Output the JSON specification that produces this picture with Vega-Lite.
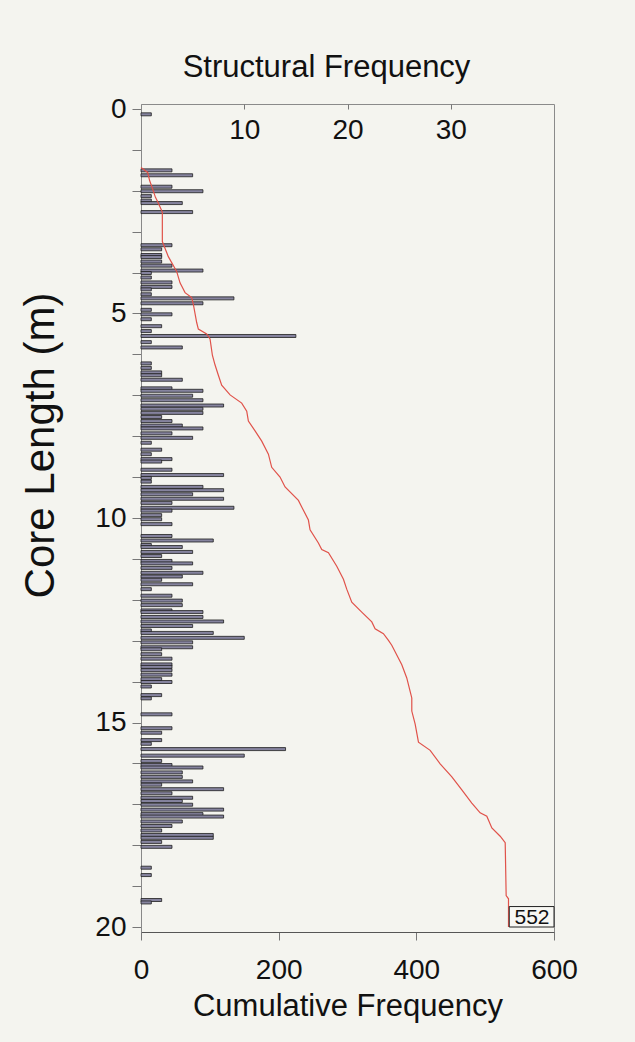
{
  "$schema": "https://vega.github.io/schema/vega-lite/v6.json",
  "width": 413,
  "height": 828,
  "autosize": {"type": "none"},
  "padding": {"left": 141, "top": 104, "right": 81, "bottom": 110},
  "background": "#f4f4ef",
  "config": {
    "font": "Liberation Sans",
    "view": {"stroke": "#8a8a8a", "strokeWidth": 1},
    "axis": {"labelFont": "Liberation Sans", "titleFont": "Liberation Sans", "labelColor": "#111", "titleColor": "#111", "titleFontWeight": "normal", "grid": false, "domainColor": "#777", "tickColor": "#777"}
  },
  "datasets": {
    "bars": [
      {"depth": 0.13, "freq": 1}, {"depth": 1.50, "freq": 3}, {"depth": 1.62, "freq": 5}, {"depth": 1.90, "freq": 3},
      {"depth": 2.01, "freq": 6}, {"depth": 2.13, "freq": 1}, {"depth": 2.24, "freq": 1}, {"depth": 2.30, "freq": 4},
      {"depth": 2.52, "freq": 5}, {"depth": 3.33, "freq": 3}, {"depth": 3.43, "freq": 2}, {"depth": 3.57, "freq": 2},
      {"depth": 3.62, "freq": 2}, {"depth": 3.73, "freq": 2}, {"depth": 3.83, "freq": 3}, {"depth": 3.95, "freq": 6},
      {"depth": 4.01, "freq": 1}, {"depth": 4.12, "freq": 1}, {"depth": 4.24, "freq": 3}, {"depth": 4.35, "freq": 3},
      {"depth": 4.41, "freq": 1}, {"depth": 4.53, "freq": 1}, {"depth": 4.63, "freq": 9}, {"depth": 4.75, "freq": 6},
      {"depth": 4.91, "freq": 1}, {"depth": 5.02, "freq": 3}, {"depth": 5.14, "freq": 1}, {"depth": 5.31, "freq": 2},
      {"depth": 5.43, "freq": 1}, {"depth": 5.55, "freq": 15}, {"depth": 5.70, "freq": 1}, {"depth": 5.83, "freq": 4},
      {"depth": 6.22, "freq": 1}, {"depth": 6.33, "freq": 1}, {"depth": 6.44, "freq": 2}, {"depth": 6.51, "freq": 2},
      {"depth": 6.62, "freq": 4}, {"depth": 6.83, "freq": 3}, {"depth": 6.89, "freq": 6}, {"depth": 7.01, "freq": 5},
      {"depth": 7.12, "freq": 6}, {"depth": 7.25, "freq": 8}, {"depth": 7.33, "freq": 6}, {"depth": 7.43, "freq": 6},
      {"depth": 7.53, "freq": 2}, {"depth": 7.63, "freq": 3}, {"depth": 7.74, "freq": 4}, {"depth": 7.81, "freq": 6},
      {"depth": 7.93, "freq": 3}, {"depth": 8.04, "freq": 5}, {"depth": 8.16, "freq": 1}, {"depth": 8.33, "freq": 2},
      {"depth": 8.44, "freq": 1}, {"depth": 8.56, "freq": 3}, {"depth": 8.62, "freq": 2}, {"depth": 8.82, "freq": 3},
      {"depth": 8.95, "freq": 8}, {"depth": 9.02, "freq": 1}, {"depth": 9.11, "freq": 1}, {"depth": 9.24, "freq": 6},
      {"depth": 9.32, "freq": 8}, {"depth": 9.42, "freq": 5}, {"depth": 9.53, "freq": 8}, {"depth": 9.63, "freq": 3},
      {"depth": 9.75, "freq": 9}, {"depth": 9.82, "freq": 3}, {"depth": 9.93, "freq": 2}, {"depth": 10.03, "freq": 2},
      {"depth": 10.15, "freq": 3}, {"depth": 10.44, "freq": 3}, {"depth": 10.55, "freq": 7}, {"depth": 10.66, "freq": 1},
      {"depth": 10.71, "freq": 4}, {"depth": 10.83, "freq": 5}, {"depth": 10.93, "freq": 2}, {"depth": 11.05, "freq": 3},
      {"depth": 11.11, "freq": 5}, {"depth": 11.22, "freq": 3}, {"depth": 11.34, "freq": 6}, {"depth": 11.43, "freq": 4},
      {"depth": 11.51, "freq": 2}, {"depth": 11.62, "freq": 5}, {"depth": 11.74, "freq": 1}, {"depth": 11.90, "freq": 3},
      {"depth": 12.02, "freq": 4}, {"depth": 12.13, "freq": 4}, {"depth": 12.26, "freq": 3}, {"depth": 12.30, "freq": 6},
      {"depth": 12.42, "freq": 6}, {"depth": 12.53, "freq": 8}, {"depth": 12.64, "freq": 5}, {"depth": 12.75, "freq": 1},
      {"depth": 12.81, "freq": 7}, {"depth": 12.93, "freq": 10}, {"depth": 13.04, "freq": 5}, {"depth": 13.16, "freq": 5},
      {"depth": 13.21, "freq": 2}, {"depth": 13.33, "freq": 2}, {"depth": 13.44, "freq": 3}, {"depth": 13.58, "freq": 3},
      {"depth": 13.64, "freq": 3}, {"depth": 13.72, "freq": 3}, {"depth": 13.83, "freq": 3}, {"depth": 13.94, "freq": 2},
      {"depth": 14.01, "freq": 3}, {"depth": 14.12, "freq": 1}, {"depth": 14.33, "freq": 2}, {"depth": 14.41, "freq": 1},
      {"depth": 14.80, "freq": 3}, {"depth": 15.14, "freq": 3}, {"depth": 15.25, "freq": 2}, {"depth": 15.43, "freq": 2},
      {"depth": 15.52, "freq": 1}, {"depth": 15.65, "freq": 14}, {"depth": 15.81, "freq": 10}, {"depth": 15.94, "freq": 2},
      {"depth": 16.04, "freq": 3}, {"depth": 16.10, "freq": 6}, {"depth": 16.22, "freq": 4}, {"depth": 16.33, "freq": 4},
      {"depth": 16.44, "freq": 5}, {"depth": 16.52, "freq": 2}, {"depth": 16.63, "freq": 8}, {"depth": 16.73, "freq": 3},
      {"depth": 16.84, "freq": 5}, {"depth": 16.92, "freq": 4}, {"depth": 17.01, "freq": 5}, {"depth": 17.13, "freq": 8},
      {"depth": 17.24, "freq": 6}, {"depth": 17.30, "freq": 8}, {"depth": 17.42, "freq": 4}, {"depth": 17.53, "freq": 3},
      {"depth": 17.64, "freq": 2}, {"depth": 17.75, "freq": 7}, {"depth": 17.82, "freq": 7}, {"depth": 17.92, "freq": 2},
      {"depth": 18.04, "freq": 3}, {"depth": 18.55, "freq": 1}, {"depth": 18.73, "freq": 1}, {"depth": 19.34, "freq": 2},
      {"depth": 19.40, "freq": 1}
    ],
    "curve": [
      {"depth": 1.43, "cum": 0}, {"depth": 1.55, "cum": 9.7}, {"depth": 1.75, "cum": 12.5}, {"depth": 1.96, "cum": 17},
      {"depth": 2.16, "cum": 21}, {"depth": 2.28, "cum": 24.6}, {"depth": 2.52, "cum": 31}, {"depth": 3.24, "cum": 31},
      {"depth": 3.61, "cum": 39.7}, {"depth": 3.97, "cum": 51.8}, {"depth": 4.25, "cum": 56.7}, {"depth": 4.49, "cum": 64.0},
      {"depth": 4.61, "cum": 73.6}, {"depth": 4.78, "cum": 76.1}, {"depth": 5.22, "cum": 80.9}, {"depth": 5.38, "cum": 83.3},
      {"depth": 5.50, "cum": 95.4}, {"depth": 5.62, "cum": 100.3}, {"depth": 6.02, "cum": 103.7}, {"depth": 6.26, "cum": 107.6},
      {"depth": 6.51, "cum": 112.4}, {"depth": 6.75, "cum": 117.2}, {"depth": 6.99, "cum": 129.4}, {"depth": 7.19, "cum": 146.3},
      {"depth": 7.39, "cum": 153.6}, {"depth": 7.63, "cum": 156.0}, {"depth": 7.87, "cum": 165.7}, {"depth": 8.12, "cum": 175.4},
      {"depth": 8.44, "cum": 185.1}, {"depth": 8.76, "cum": 189.9}, {"depth": 9.00, "cum": 202.0}, {"depth": 9.24, "cum": 209.3},
      {"depth": 9.57, "cum": 228.7}, {"depth": 9.73, "cum": 233.5}, {"depth": 10.05, "cum": 243.2}, {"depth": 10.29, "cum": 245.6},
      {"depth": 10.61, "cum": 257.7}, {"depth": 10.77, "cum": 262.6}, {"depth": 10.85, "cum": 272.3}, {"depth": 11.18, "cum": 284.4},
      {"depth": 11.50, "cum": 294.1}, {"depth": 11.74, "cum": 298.9}, {"depth": 12.06, "cum": 306.2}, {"depth": 12.30, "cum": 320.7},
      {"depth": 12.54, "cum": 335.3}, {"depth": 12.71, "cum": 340.1}, {"depth": 12.83, "cum": 352.2}, {"depth": 12.99, "cum": 359.5},
      {"depth": 13.11, "cum": 364.3}, {"depth": 13.59, "cum": 378.9}, {"depth": 13.91, "cum": 386.1}, {"depth": 14.24, "cum": 391.0},
      {"depth": 14.40, "cum": 393.4}, {"depth": 14.72, "cum": 393.4}, {"depth": 15.04, "cum": 398.3}, {"depth": 15.48, "cum": 403.1},
      {"depth": 15.68, "cum": 420.1}, {"depth": 16.01, "cum": 434.6}, {"depth": 16.33, "cum": 451.6}, {"depth": 16.65, "cum": 466.1},
      {"depth": 16.97, "cum": 480.6}, {"depth": 17.21, "cum": 492.7}, {"depth": 17.29, "cum": 502.4}, {"depth": 17.58, "cum": 509.7},
      {"depth": 17.78, "cum": 521.8}, {"depth": 17.94, "cum": 529.1}, {"depth": 19.23, "cum": 530.5}, {"depth": 19.31, "cum": 533.9},
      {"depth": 20.0, "cum": 533.9}
    ],
    "total": [{"label": "552", "cum": 533.9, "depth": 20}]
  },
  "layer": [
    {
      "data": {"name": "bars"},
      "mark": {"type": "bar", "orient": "horizontal", "height": 3, "fill": "#85839e", "stroke": "#1e1e1e", "strokeWidth": 0.8},
      "encoding": {
        "x": {
          "field": "freq", "type": "quantitative",
          "scale": {"domain": [0, 40], "nice": false},
          "axis": {"orient": "top", "title": "Structural Frequency", "values": [10, 20, 30], "tickSize": -5, "labelPadding": -29, "labelBaseline": "alphabetic", "labelFontSize": 28, "labelFlush": false, "titleFontSize": 31, "titleX": 185, "titleY": -28, "titleBaseline": "alphabetic", "domain": false}
        },
        "y": {
          "field": "depth", "type": "quantitative",
          "scale": {"domain": [0, 20], "reverse": true, "nice": false, "zero": false},
          "axis": {"title": "Core Length (m)", "values": [0, 1, 2, 3, 4, 5, 6, 7, 8, 9, 10, 11, 12, 13, 14, 15, 16, 17, 18, 19, 20], "labelExpr": "datum.value % 5 === 0 ? datum.label : ''", "tickSize": 9, "labelPadding": 6, "labelFontSize": 28, "labelBaseline": "middle", "labelFlush": false, "labelOverlap": false, "titleFontSize": 42, "titleX": -101, "titleY": 341, "titleAngle": -90, "titleBaseline": "middle", "titleAlign": "center", "domainColor": "#888"}
        }
      }
    },
    {
      "layer": [
        {
          "data": {"name": "curve"},
          "mark": {"type": "line", "color": "#e0524a", "strokeWidth": 1.2},
          "encoding": {
            "x": {
              "field": "cum", "type": "quantitative",
              "scale": {"domain": [0, 600], "nice": false},
              "axis": {"orient": "bottom", "title": "Cumulative Frequency", "values": [0, 200, 400, 600], "tickSize": 8, "labelPadding": 38, "labelBaseline": "alphabetic", "labelFontSize": 28, "labelFlush": false, "titleFontSize": 31, "titleY": 83, "titleBaseline": "alphabetic", "domainColor": "#555"}
            },
            "y": {"field": "depth", "type": "quantitative"},
            "order": {"field": "depth", "type": "quantitative"}
          }
        },
        {
          "data": {"name": "total"},
          "mark": {"type": "rect", "fill": "#f7f7f3", "stroke": "#222", "strokeWidth": 1},
          "encoding": {
            "x": {"datum": 535, "type": "quantitative"},
            "x2": {"datum": 600},
            "y": {"datum": 19.5, "type": "quantitative"},
            "y2": {"datum": 20}
          }
        },
        {
          "data": {"name": "total"},
          "mark": {"type": "text", "fontSize": 21, "align": "left", "baseline": "alphabetic", "dx": 6, "dy": -3, "color": "#111"},
          "encoding": {
            "x": {"field": "cum", "type": "quantitative"},
            "y": {"field": "depth", "type": "quantitative"},
            "text": {"field": "label"}
          }
        }
      ]
    }
  ],
  "resolve": {"scale": {"x": "independent"}, "axis": {"x": "independent"}}
}
